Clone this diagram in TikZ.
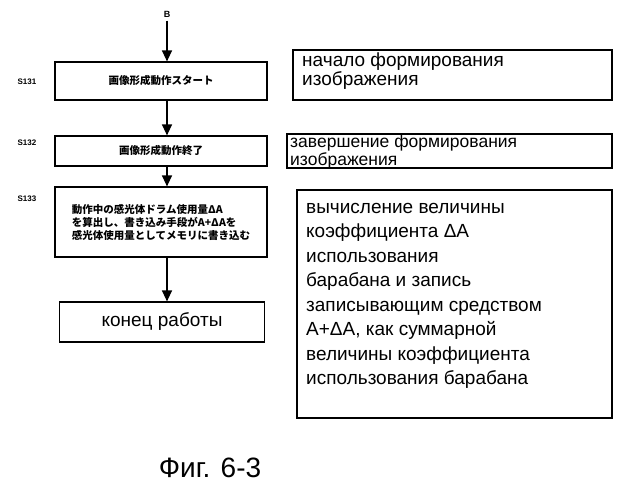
\documentclass[tikz,border=0pt]{standalone}
\usepackage{fontspec}
\setmainfont{Liberation Sans}
\newfontfamily\cjk{Noto Sans CJK JP}
\usetikzlibrary{arrows.meta}
\begin{document}
\begin{tikzpicture}[x=1pt,y=-1pt,
  box/.style={draw,line width=1.2pt,inner sep=0pt},
  jp/.style={font=\cjk\bfseries\fontsize{10.5}{13}\selectfont},
  ru/.style={font=\fontsize{19}{16}\selectfont,align=left,anchor=north west,inner sep=0pt},
  lab/.style={font=\bfseries\fontsize{8}{8}\selectfont},
  arr/.style={-{Triangle[length=11pt,width=10pt]},line width=1.4pt}]
\useasboundingbox (0,0) rectangle (627,500);
\node[font=\bfseries\fontsize{9}{9}\selectfont] (B) at (167,14) {B};
\node[box,minimum width=212pt,minimum height=38pt,jp] (s1) at (161,81) {画像形成動作スタート};
\node[box,minimum width=212pt,minimum height=30pt,jp] (s2) at (161,151) {画像形成動作終了};
\node[box,minimum width=212pt,minimum height=70pt,jp,align=left] (s3) at (161,222) {動作中の感光体ドラム使用量ΔA\\を算出し、書き込み手段がA+ΔAを\\感光体使用量としてメモリに書き込む};
\node[box,minimum width=205pt,minimum height=40pt,font=\fontsize{19}{19}\selectfont] (s4) at (162,322) {конец работы};
\node[lab] (l1) at (27,82) {S131};
\node[lab] (l2) at (27,143) {S132};
\node[lab] (l3) at (27,199) {S133};
\draw[arr] (B) -- (s1.north -| B);
\draw[arr] (s1.south -| B) -- (s2.north -| B);
\draw[arr] (s2.south -| B) -- (s3.north -| B);
\draw[arr] (s3.south -| B) -- (s4.north -| B);
\draw[box] (293,50) rectangle (612,100);
\node[ru] (r1) at (302,53) {начало формирования\\изображения};
\draw[box] (287,134) rectangle (612,168);
\node[ru,font=\fontsize{17.5}{14}\selectfont] (r2) at (290,135) {завершение формирования\\изображения};
\draw[box] (297,190) rectangle (612,418);
\node[ru,font=\fontsize{19}{24.5}\selectfont] (r3) at (306,203) {вычисление величины\\коэффициента ΔA\\использования\\барабана и запись\\записывающим средством\\A+ΔA, как суммарной\\величины коэффициента\\использования барабана};
\node[font=\fontsize{28}{28}\selectfont] (cap) at (210,468) {Фиг. 6-3};
\end{tikzpicture}
\end{document}
